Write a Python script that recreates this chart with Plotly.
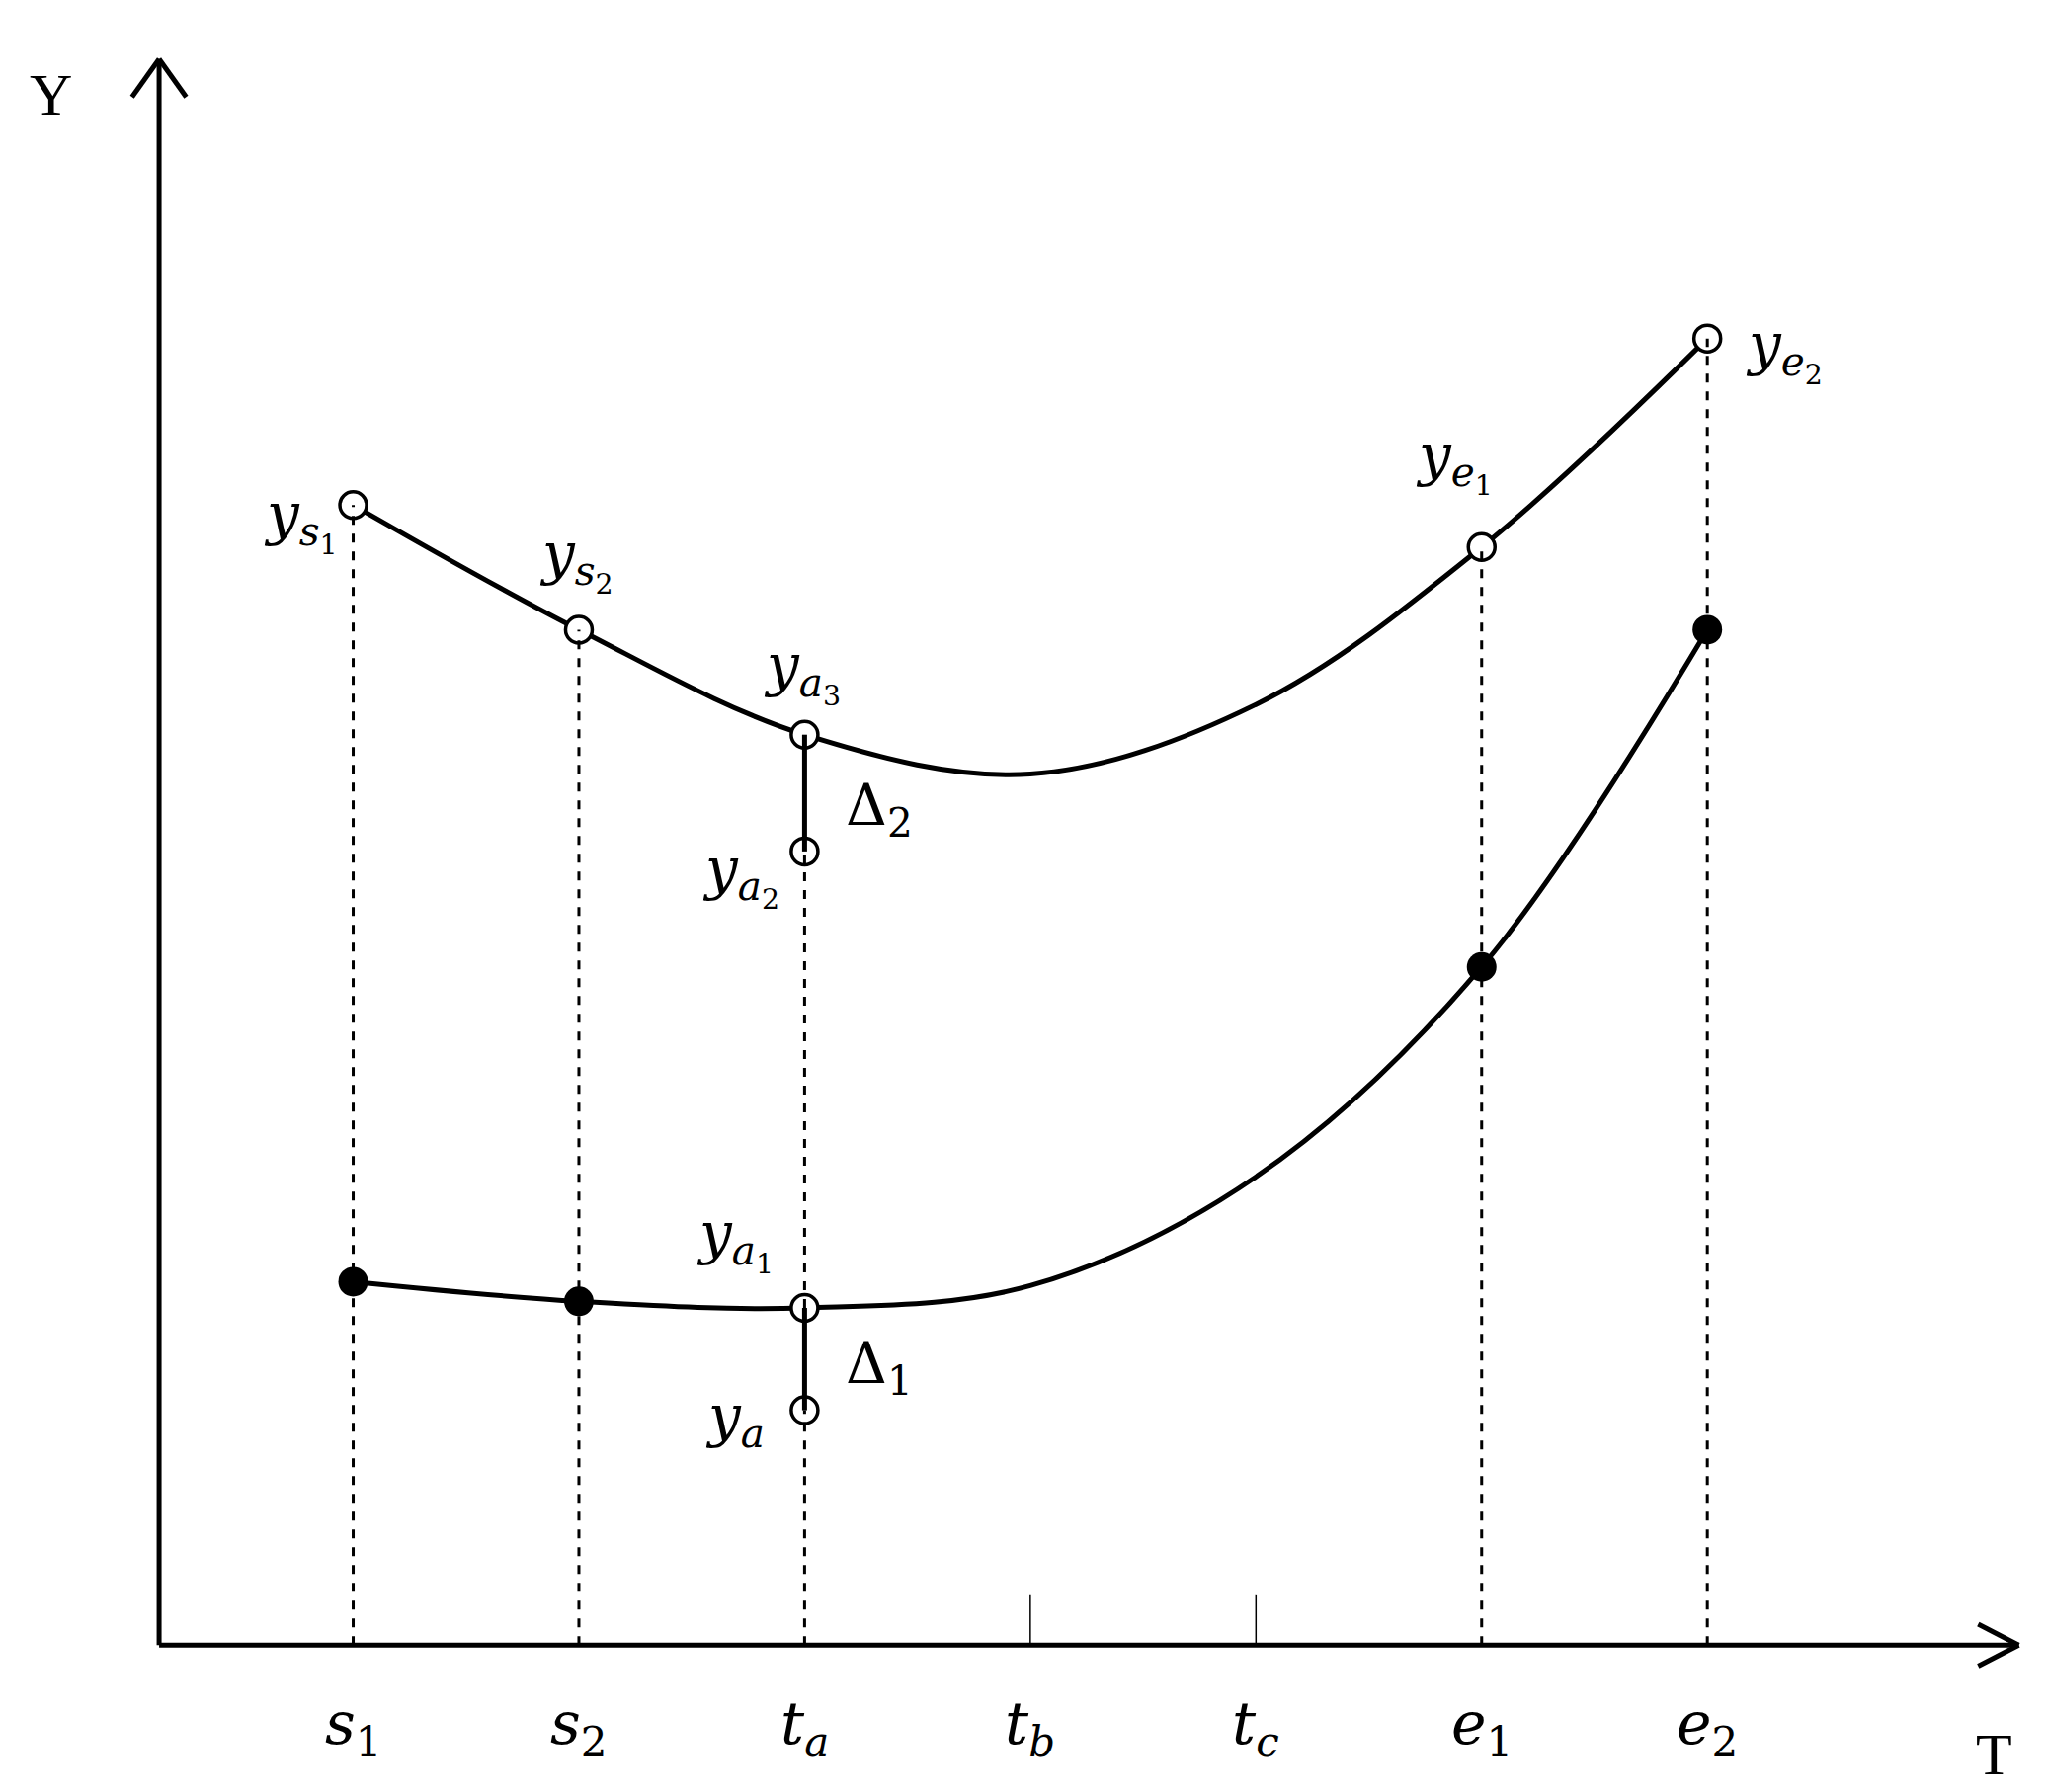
import plotly.graph_objects as go

# x positions of the T-axis marks
tick_x = [1, 2, 3, 4, 5, 6, 7]
tick_labels = ["<i>s</i><sub>1</sub>", "<i>s</i><sub>2</sub>", "<i>t<sub>a</sub></i>",
               "<i>t<sub>b</sub></i>", "<i>t<sub>c</sub></i>", "<i>e</i><sub>1</sub>", "<i>e</i><sub>2</sub>"]

# upper curve
up_x = [1, 2, 3, 4, 5, 6, 7]
up_y = [8.69, 7.74, 6.94, 6.64, 7.17, 8.37, 9.96]
# lower curve
lo_x = [1, 2, 3, 4, 5, 6, 7]
lo_y = [2.77, 2.62, 2.57, 2.74, 3.57, 5.17, 7.74]

# open / filled point sets
open_x = [1, 2, 3, 6, 7, 3, 3, 3]
open_y = [8.69, 7.74, 6.94, 8.37, 9.96, 6.05, 2.57, 1.79]
fill_x = [1, 2, 6, 7]
fill_y = [2.77, 2.62, 5.17, 7.74]

ya2, ya = 6.05, 1.79

fig = go.Figure()
black = "black"

def seg(x0, y0, x1, y1, dash="solid", w=3):
    fig.add_shape(type="line", x0=x0, y0=y0, x1=x1, y1=y1,
                  line=dict(color=black, width=w, dash=dash))

# dashed verticals
seg(1, 0, 1, up_y[0], "dash", 3)
seg(2, 0, 2, up_y[1], "dash", 3)
seg(3, 0, 3, ya, "dash", 3)
seg(3, lo_y[2], 3, ya2, "dash", 3)
seg(6, 0, 6, up_y[5], "dash", 3)
seg(7, 0, 7, up_y[6], "dash", 3)
# delta bars
seg(3, ya, 3, lo_y[2], w=5)
seg(3, ya2, 3, up_y[2], w=5)
# ticks at tb, tc
for tx in tick_x[3:5]:
    seg(tx, 0, tx, 0.38, w=1.5)

fig.add_trace(go.Scatter(x=up_x, y=up_y, mode="lines", line=dict(color=black, width=5, shape="spline", smoothing=1.0)))
fig.add_trace(go.Scatter(x=lo_x, y=lo_y, mode="lines", line=dict(color=black, width=5, shape="spline", smoothing=1.0)))
fig.add_trace(go.Scatter(x=open_x, y=open_y, mode="markers",
                         marker=dict(size=27, color="white", line=dict(color=black, width=3.5))))
fig.add_trace(go.Scatter(x=fill_x, y=fill_y, mode="markers",
                         marker=dict(size=30, color=black)))

# axes
seg(0.14, 0, 8.38, 0, w=5)
seg(0.14, 0, 0.14, 12.09, w=5)
# arrow heads as open chevrons
seg(8.38, 0, 8.2, 0.16, w=5)
seg(8.38, 0, 8.2, -0.16, w=5)
seg(0.14, 12.09, 0.02, 11.8, w=5)
seg(0.14, 12.09, 0.26, 11.8, w=5)

mfont = dict(family="DejaVu Serif", size=60, color=black)
lfont = dict(family="DejaVu Serif", size=58, color=black)
for tx, tl in zip(tick_x, tick_labels):
    fig.add_annotation(x=tx, y=-0.63, text=tl, showarrow=False, font=mfont)
fig.add_annotation(x=8.27, y=-0.83, text="T", showarrow=False,
                   font=dict(family="Liberation Serif", size=60, color=black))
fig.add_annotation(x=-0.34, y=11.82, text="Y", showarrow=False,
                   font=dict(family="Liberation Serif", size=60, color=black))

labels = [
    (0.77, 8.57, "<i>y</i><sub><i>s</i><sub>1</sub></sub>"),
    (1.99, 8.27, "<i>y</i><sub><i>s</i><sub>2</sub></sub>"),
    (2.99, 7.42, "<i>y</i><sub><i>a</i><sub>3</sub></sub>"),
    (2.72, 5.87, "<i>y</i><sub><i>a</i><sub>2</sub></sub>"),
    (2.69, 3.09, "<i>y</i><sub><i>a</i><sub>1</sub></sub>"),
    (2.69, 1.72, "<i>y</i><sub><i>a</i></sub>"),
    (5.88, 9.02, "<i>y</i><sub><i>e</i><sub>1</sub></sub>"),
    (7.34, 9.87, "<i>y</i><sub><i>e</i><sub>2</sub></sub>"),
    (3.33, 6.37, "Δ<sub>2</sub>"),
    (3.33, 2.12, "Δ<sub>1</sub>"),
]
for lx, ly, lt in labels:
    fig.add_annotation(x=lx, y=ly, text=lt, showarrow=False, font=lfont)

fig.update_layout(width=2072, height=1814, autosize=False, showlegend=False,
                  margin=dict(l=0, r=0, t=0, b=0), plot_bgcolor="white", paper_bgcolor="white",
                  xaxis=dict(range=[-0.53, 8.54], visible=False),
                  yaxis=dict(range=[-1.18, 12.48], visible=False))
fig.write_html("out.html")
